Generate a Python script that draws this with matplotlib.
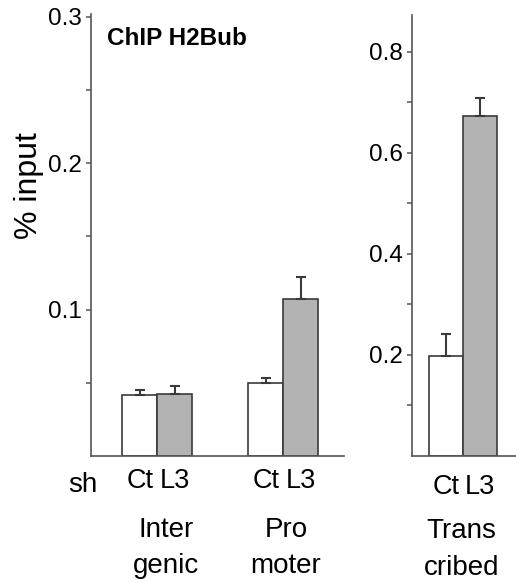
import matplotlib.pyplot as plt
import numpy as np

plt.rcParams['font.family'] = ['Liberation Sans', 'DejaVu Sans']

# data (% input)
group_top = ["Inter", "Pro"]
group_bot = ["genic", "moter"]
ct_vals = [0.042, 0.050]
ct_err = [0.003, 0.0035]
l3_vals = [0.0425, 0.107]
l3_err = [0.0055, 0.0155]

tr_labels = ["Ct", "L3"]
tr_vals = [0.198, 0.673]
tr_err = [0.043, 0.036]

edge = "#3a3a3a"
gray = "#b3b3b3"
spine_c = "#555555"

W, H = 516, 582
fig = plt.figure(figsize=(W / 100, H / 100), dpi=100)
ax1 = fig.add_axes([0.1764, 0.2165, 0.490, 0.7595])
ax2 = fig.add_axes([0.7985, 0.2165, 0.25, 0.7577])


def style(ax):
    for s in ["top", "right"]:
        ax.spines[s].set_visible(False)
    for s in ["left", "bottom"]:
        ax.spines[s].set_color(spine_c)
        ax.spines[s].set_linewidth(1.2)
    ax.tick_params(axis="y", which="both", direction="out", length=3.5, width=1.1,
                   color=spine_c, labelsize=17.5, pad=3)
    ax.tick_params(axis="x", length=0, labelsize=19.5, pad=9)


def ftext(px, py, s, **kw):
    # place text at pixel position of the figure (from top-left)
    fig.text(px / W, 1 - py / H, s, **kw)


# left panel
xc = np.array([1.4, 5.0])
ax1.bar(xc, ct_vals, width=1.0, color="white", edgecolor=edge, linewidth=1.2,
        yerr=[[0, 0], ct_err], capsize=3.5,
        error_kw=dict(ecolor=edge, elinewidth=1.5, capthick=1.5))
ax1.bar(xc + 1, l3_vals, width=1.0, color=gray, edgecolor=edge, linewidth=1.2,
        yerr=[[0, 0], l3_err], capsize=3.5,
        error_kw=dict(ecolor=edge, elinewidth=1.5, capthick=1.5))
ax1.set_xlim(0, 7.23)
ax1.set_ylim(0, 0.302)
ax1.set_yticks([0.1, 0.2, 0.3])
ax1.set_yticklabels(["0.1", "0.2", "0.3"])
ax1.set_yticks([0.05, 0.15, 0.25], minor=True)
ax1.set_xticks(np.concatenate([xc, xc + 1]))
ax1.set_xticklabels(["Ct", "Ct", "L3", "L3"])
style(ax1)
ax1.text(0.45, 0.285, "ChIP H2Bub", fontsize=17.5, fontweight="bold",
         ha="left", va="center")

ftext(29.5, 186, "% input", fontsize=23, rotation=90, ha="center", va="center")
ftext(68, 492, "sh", fontsize=20, ha="left", va="baseline")
for px, t, b in zip([166, 286], group_top, group_bot):
    ftext(px, 537, t, fontsize=20, ha="center", va="baseline")
    ftext(px, 573, b, fontsize=20, ha="center", va="baseline")

# right panel
xr = np.array([1.0, 2.0])
ax2.bar(xr, tr_vals, width=1.0, color=["white", gray], edgecolor=edge,
        linewidth=1.2, yerr=[[0, 0], tr_err], capsize=3.5,
        error_kw=dict(ecolor=edge, elinewidth=1.5, capthick=1.5))
ax2.set_xlim(0, 3.06 * 0.25 / 0.2016)
ax2.set_ylim(0, 0.873)
ax2.set_yticks([0.2, 0.4, 0.6, 0.8])
ax2.set_yticklabels(["0.2", "0.4", "0.6", "0.8"])
ax2.set_yticks([0.1, 0.3, 0.5, 0.7], minor=True)
ax2.set_xticks(xr)
ax2.set_xticklabels(tr_labels)
style(ax2)
ax2.tick_params(axis="x", pad=13)
ftext(461, 538, "Trans", fontsize=20, ha="center", va="baseline")
ftext(462, 575, "cribed", fontsize=20, ha="center", va="baseline")

fig.savefig("out.png", dpi=100)
